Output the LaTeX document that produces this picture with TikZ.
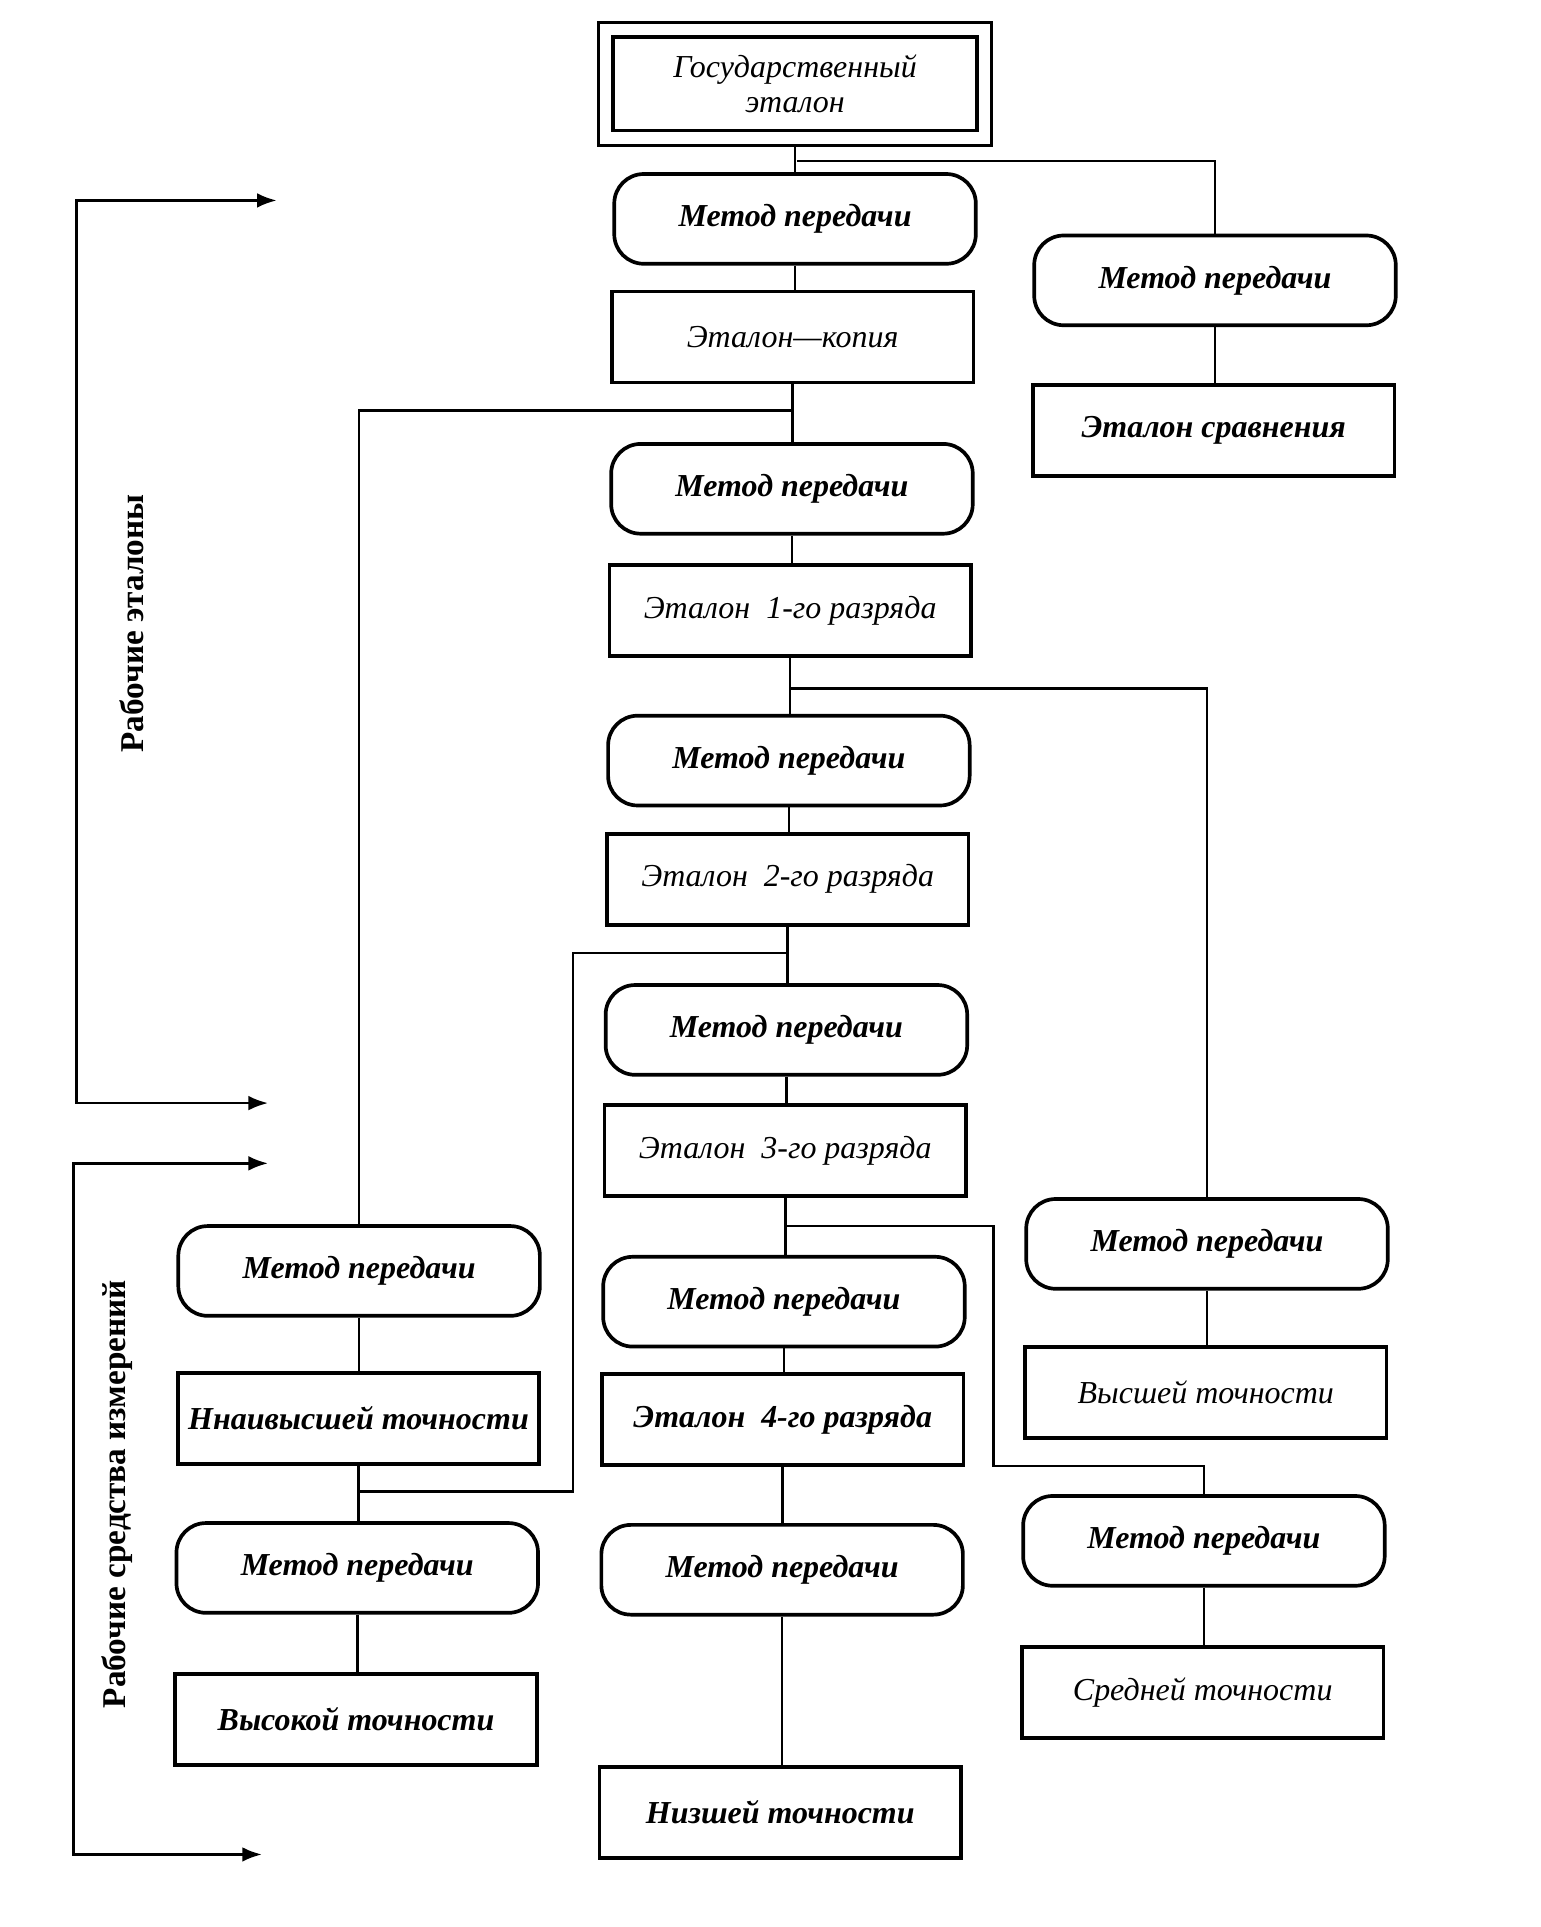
\documentclass[tikz,border=0pt]{standalone}
\usepackage{fontspec}
\setmainfont{Liberation Serif}
\usetikzlibrary{arrows.meta}
\begin{document}
\begin{tikzpicture}[x=0.5pt,y=-0.5pt,
  mp/.style={draw, line width=1.5pt, rounded corners=12pt, minimum width=147pt, minimum height=36.5pt, inner sep=0pt, font=\fontsize{13}{15}\selectfont\bfseries\itshape},
  rb/.style={draw, line width=1.5pt, minimum width=147pt, minimum height=37pt, inner sep=0pt, font=\fontsize{13}{15}\selectfont\itshape},
  rbb/.style={rb, font=\fontsize{13}{15}\selectfont\bfseries\itshape},
  ln/.style={line width=1.1pt},
  arr/.style={line width=1.1pt, {Latex[length=8pt,width=6pt]}-{Latex[length=8pt,width=6pt]}},
  side/.style={rotate=90, inner sep=0pt, font=\fontsize{13.5}{16}\selectfont\bfseries}
]
\useasboundingbox (0,0) rectangle (1253,1567);

% state standard
\node[draw, line width=1.3pt, minimum width=159.5pt, minimum height=50pt, inner sep=0pt] (S) at (646.5,68) {};
\node[draw, line width=1.5pt, minimum width=148pt, minimum height=38pt, inner sep=0pt, align=center,
      font=\fontsize{13}{14}\selectfont\itshape] (Sin) at (646.5,68) {Государственный\\эталон};

% center column
\node[mp] (M1) at (646.5,178) {Метод передачи};
\node[rb] (E0) at (644.5,274) {Эталон—копия};
\node[mp] (M2) at (644,397.5) {Метод передачи};
\node[rb] (E1) at (642.5,496.5) {Эталон\ \ 1-го разряда};
\node[mp] (M3) at (641.5,618.5) {Метод передачи};
\node[rb] (E2) at (640.5,715) {Эталон\ \ 2-го разряда};
\node[mp] (M4) at (639.5,837.5) {Метод передачи};
\node[rb] (E3) at (638.5,935.5) {Эталон\ \ 3-го разряда};
\node[mp] (M5) at (637.5,1058.5) {Метод передачи};
\node[rbb] (E4) at (636.5,1154.5) {Эталон\ \ 4-го разряда};
\node[mp] (M6) at (636,1276.5) {Метод передачи};
\node[rbb] (LT) at (634.5,1474) {Низшей точности};

% right column
\node[mp] (RM1) at (988,228) {Метод передачи};
\node[rbb] (RS) at (987,350) {Эталон сравнения};
\node[mp] (RM2) at (981.5,1011.5) {Метод передачи};
\node[rb] (RV) at (980.5,1132.5) {Высшей точности};
\node[mp] (RM3) at (979,1253) {Метод передачи};
\node[rb] (RC) at (978,1376.5) {Средней точности};

% left column
\node[mp] (LM1) at (292,1033.5) {Метод передачи};
\node[rbb] (LN) at (291.5,1153.5) {Ннаивысшей точности};
\node[mp] (LM2) at (290.5,1275) {Метод передачи};
\node[rbb] (LV) at (289.5,1398) {Высокой точности};

% vertical connectors
\foreach \a/\b in {S/M1,M1/E0,E0/M2,M2/E1,E1/M3,M3/E2,E2/M4,M4/E3,E3/M5,M5/E4,E4/M6,M6/LT,
                   RM1/RS,RM2/RV,RM3/RC,LM1/LN,LN/LM2,LM2/LV}
  \draw[ln] (\a.south) -- (\a.south |- \b.north);

% branches
\coordinate (b1) at (648,131);
\draw[ln] (b1) -| (RM1.north);
\coordinate (b2) at (645,334);
\draw[ln] (b2) -| (LM1.north);
\coordinate (b3) at (643,560);
\draw[ln] (b3) -| (RM2.north);
\coordinate (b4) at (641,775);
\coordinate (b4a) at (466,775);
\coordinate (b4b) at (466,1213);
\draw[ln] (b4) -- (b4a) -- (b4b) -- (LN.south |- b4b);
\coordinate (b5) at (639,997);
\coordinate (b5a) at (808,997);
\coordinate (b5b) at (808,1192);
\draw[ln] (b5) -- (b5a) -- (b5b) -| (RM3.north);

% left brackets
\coordinate (t1) at (225,163);
\coordinate (c1) at (62,163);
\coordinate (c2) at (62,897);
\coordinate (t2) at (218,897);
\draw[arr] (t1) -- (c1) -- (c2) -- (t2);
\coordinate (t3) at (218,946);
\coordinate (c3) at (60,946);
\coordinate (c4) at (60,1508);
\coordinate (t4) at (213,1508);
\draw[arr] (t3) -- (c3) -- (c4) -- (t4);

\node[side] (lab1) at (107,507) {Рабочие эталоны};
\node[side] (lab2) at (95,1215) {Рабочие средства измерений};
\end{tikzpicture}
\end{document}
